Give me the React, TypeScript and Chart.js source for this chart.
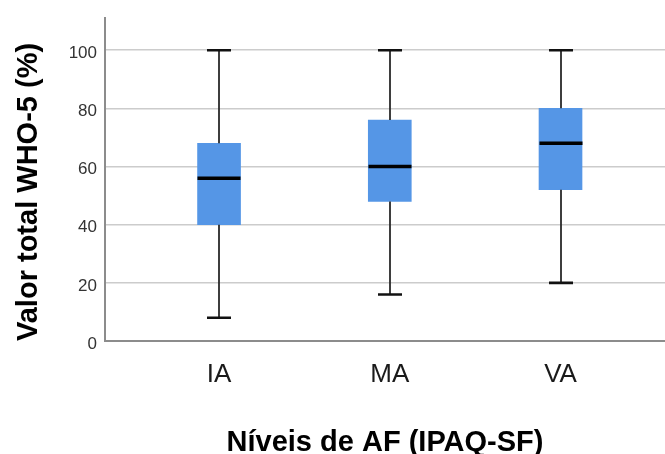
import React, { useEffect, useRef } from "react";
import { Chart, registerables } from "chart.js";

Chart.register(...registerables);

const categories = ["IA", "MA", "VA"];
const whiskerMin = [8, 16, 20];
const q1 = [40, 48, 52];
const medians = [56, 60, 68];
const q3 = [68, 76, 80];
const whiskerMax = [100, 100, 100];
const yTicks = [0, 20, 40, 60, 80, 100];

const FONT = "'Liberation Sans', Arial, sans-serif";

const boxPlugin = {
  id: "boxWhiskers",
  afterDatasetsDraw(chart: any) {
    const { ctx, scales } = chart;
    const xs = scales.x;
    const ys = scales.y;
    const boxW = 43;
    const capW = 24;
    ctx.save();
    categories.forEach((_, i) => {
      const cx = Math.round(xs.getPixelForValue(i + 1));
      const yMin = ys.getPixelForValue(whiskerMin[i]);
      const yMax = ys.getPixelForValue(whiskerMax[i]);
      const yQ1 = ys.getPixelForValue(q1[i]);
      const yQ3 = ys.getPixelForValue(q3[i]);
      const yMed = ys.getPixelForValue(medians[i]);
      // whisker stems
      ctx.strokeStyle = "#2a2a2a";
      ctx.lineWidth = 1.8;
      ctx.beginPath();
      ctx.moveTo(cx, yQ3);
      ctx.lineTo(cx, yMax);
      ctx.moveTo(cx, yQ1);
      ctx.lineTo(cx, yMin);
      ctx.stroke();
      // caps
      ctx.strokeStyle = "#111";
      ctx.lineWidth = 2.6;
      ctx.beginPath();
      ctx.moveTo(cx - capW / 2, yMax);
      ctx.lineTo(cx + capW / 2, yMax);
      ctx.moveTo(cx - capW / 2, yMin);
      ctx.lineTo(cx + capW / 2, yMin);
      ctx.stroke();
      // median
      ctx.strokeStyle = "#000";
      ctx.lineWidth = 3.5;
      ctx.beginPath();
      ctx.moveTo(cx - boxW / 2, yMed);
      ctx.lineTo(cx + boxW / 2, yMed);
      ctx.stroke();
    });
    ctx.restore();
  },
};

export default function App() {
  const ref = useRef<HTMLCanvasElement | null>(null);

  useEffect(() => {
    if (!ref.current) return;
    const chart = new Chart(ref.current, {
      type: "bar",
      data: {
        datasets: [
          {
            data: categories.map((_, i) => ({ x: i + 1, y: [q1[i], q3[i]] })) as any,
            backgroundColor: "#5596e6",
            borderWidth: 0,
            barThickness: 43,
          },
        ],
      },
      options: {
        animation: false,
        responsive: false,
        layout: { padding: { top: 16, left: 0, right: 0, bottom: 0 } },
        plugins: { legend: { display: false }, tooltip: { enabled: false } },
        scales: {
          x: {
            type: "linear",
            offset: false,
            min: 0.332,
            max: 3.612,
            afterBuildTicks: (scale: any) => {
              scale.ticks = categories.map((_, i) => ({ value: i + 1 }));
            },
            afterFit: (scale: any) => {
              scale.height = 113;
            },
            grid: { display: false, drawTicks: false, offset: false },
            border: { display: true, color: "#8c8c8c", width: 2 },
            ticks: {
              padding: 18,
              color: "#1a1a1a",
              font: { family: FONT, size: 26 },
              maxRotation: 0,
              autoSkip: false,
              callback: (v: any) => categories[Number(v) - 1] ?? "",
            },
            title: {
              display: true,
              text: "Níveis de AF (IPAQ-SF)",
              color: "#000",
              font: { family: FONT, size: 29, weight: "bold" },
              padding: { top: 0, bottom: -6 },
            },
          },
          y: {
            type: "linear",
            min: 0,
            max: 111,
            afterBuildTicks: (scale: any) => {
              scale.ticks = yTicks.map((v) => ({ value: v }));
            },
            afterFit: (scale: any) => {
              scale.width = 105;
            },
            grid: { color: "#cccccc", lineWidth: 1.5, drawTicks: false },
            border: { display: true, color: "#8c8c8c", width: 2 },
            ticks: {
              padding: 8,
              labelOffset: 3,
              color: "#333333",
              font: { family: FONT, size: 17 },
            },
            title: {
              display: true,
              text: "Valor total WHO-5 (%)",
              align: "start",
              color: "#000",
              font: { family: FONT, size: 29, weight: "bold" },
              padding: { top: 12, bottom: 0 },
            },
          },
        },
      },
      plugins: [boxPlugin],
    });
    return () => chart.destroy();
  }, []);

  return (
    <div style={{ position: "fixed", left: 0, top: 0, width: 665, height: 454, background: "#fff" }}>
      <canvas ref={ref} width={665} height={454} style={{ display: "block" }} />
    </div>
  );
}
